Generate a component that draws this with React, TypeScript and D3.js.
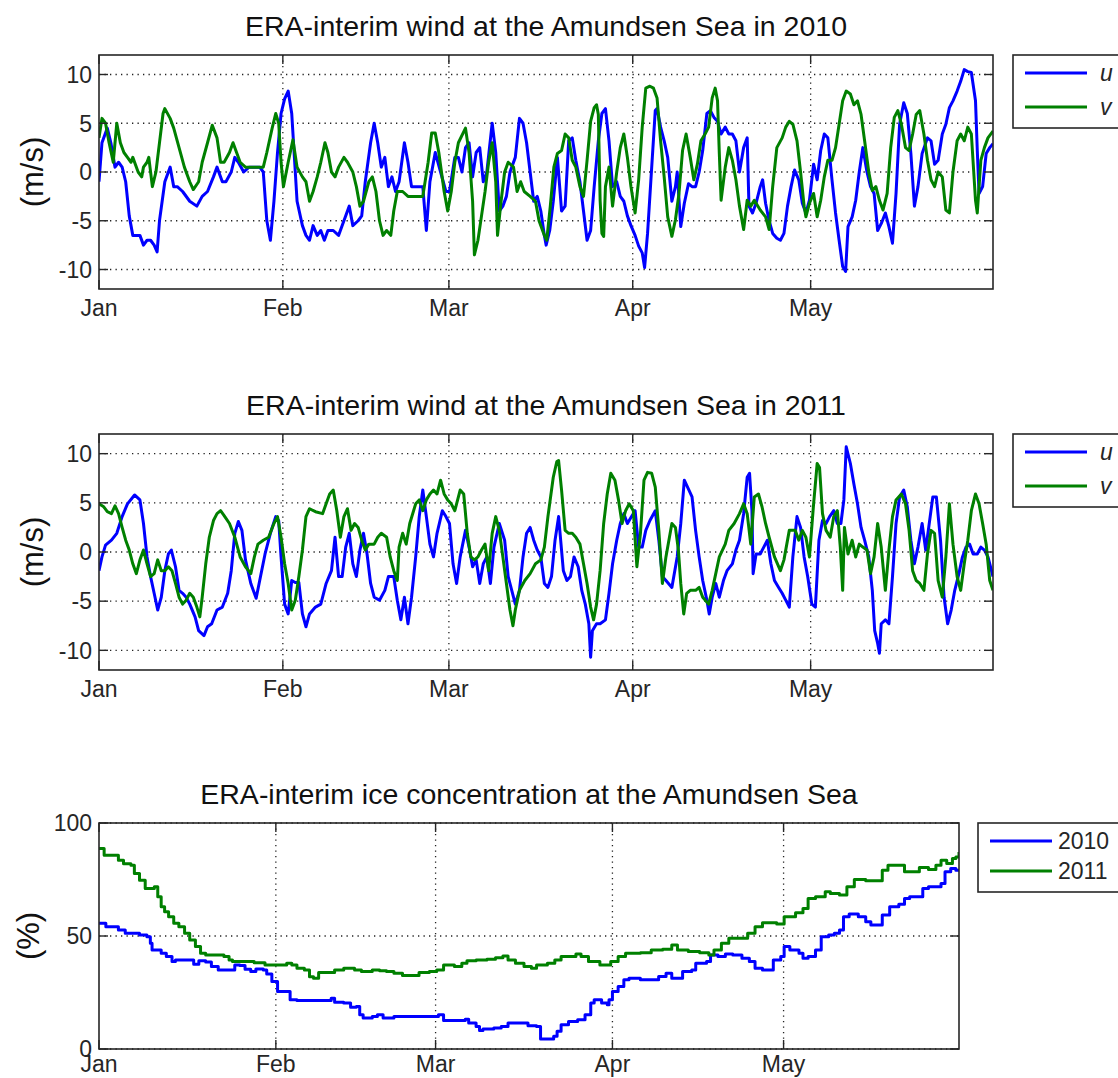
import React from 'react';
import * as d3 from 'd3';

// [day since Jan 1, value]
type Pt = [number, number];

const monthDays = [0, 31, 59, 90, 120];
const monthLabels = ['Jan', 'Feb', 'Mar', 'Apr', 'May'];
const dayEnd = 150.75;
const windTicks = [-10, -5, 0, 5, 10];
const iceTicks = [0, 50, 100];
const windLegend = ['u', 'v'];
const iceLegend = ['2010', '2011'];

const u2010: Pt[] = [[0,-1],[0.5,3],[1.4,4.5],[2,3],[2.7,0.5],[3.3,1],[3.9,0.5],[4.5,-1],[5.1,-4.5],[5.7,-6.5],[6.3,-6.5],[6.9,-6.5],[7.5,-7.5],[8.1,-7],[8.7,-7],[9.3,-7.5],[9.8,-8.2],[10.2,-5],[11.1,-1],[12,0.5],[12.6,-1.5],[13.2,-1.5],[14.1,-2],[15.3,-3],[16.5,-3.5],[17.4,-2.5],[18.3,-2],[19.3,-0.5],[19.9,0.5],[20.8,-1],[21.4,-1],[22.3,0],[22.9,1.5],[23.5,1],[24.4,0],[25.3,0.5],[26.2,0.5],[27.1,0.5],[27.7,0],[28.3,-5],[28.9,-7],[29.5,-3],[30.1,2],[30.7,6],[31.3,7.5],[31.9,8.3],[32.5,6],[32.8,3],[33.4,-3],[34.3,-5.5],[34.9,-6.5],[35.5,-7],[36.1,-5.5],[36.8,-6.5],[37.4,-6],[38,-7],[38.6,-6],[39.5,-6],[40.4,-6.5],[41.3,-5],[42.2,-3.5],[42.8,-5.5],[43.7,-5],[44.3,-4.5],[44.9,-1],[45.8,3],[46.4,5],[47,3],[47.6,0.5],[48.2,1.5],[48.8,-1.5],[49.4,-0.5],[50,-2],[50.6,-1],[51.5,3],[52.1,1],[52.7,-1.5],[54.6,-1.5],[55.2,-6],[55.8,-1],[56.7,2],[57.6,0],[58.5,-2],[59.1,-2],[60,1.5],[60.6,1.5],[61.2,0],[61.8,2.5],[62.4,3],[63,-0.5],[63.6,2],[64.2,2.5],[64.8,-1],[65.4,0],[66.3,5],[66.9,2],[67.5,-4],[68.1,-3.5],[68.7,-2.5],[69.3,0],[70.2,1.5],[70.9,5.5],[71.5,5],[72.1,3],[72.7,0],[73.3,-3],[73.9,-2.5],[74.5,-4],[75.1,-6.5],[75.4,-7.5],[76,-6],[76.6,-3],[77.3,1.5],[78,-4],[78.6,-3.5],[79.2,3.2],[79.8,3.5],[80.4,1.2],[81.1,-1],[81.7,-4],[82.3,-7],[82.9,-6],[83.5,-1.5],[84.2,3.2],[84.8,6],[85.4,6.5],[86,3.2],[86.6,-1.5],[87.3,-1],[87.9,-2.5],[88.5,-3],[89.1,-4.5],[89.7,-5.5],[90.4,-6.5],[91,-7.6],[91.6,-8.3],[92,-9.8],[92.5,-6.3],[93.2,0.5],[93.8,6.3],[94.1,6.5],[94.7,4.6],[95.3,3.2],[95.9,1.5],[96.6,-3],[97.2,-1.5],[97.5,0],[98.1,-5.6],[98.7,-3.2],[99.4,-1.2],[100,-1.5],[100.6,-1.5],[101.2,0],[101.8,2.2],[102.5,6],[103.1,6.3],[103.7,5.6],[104.3,5.2],[104.9,3.9],[105.6,4.6],[106.2,3.9],[106.8,3.9],[107.4,3.2],[108,0],[108.7,2.5],[109.3,3.5],[109.6,-3.5],[110.2,-4.2],[110.8,-3.2],[111.5,-1.5],[111.9,-0.8],[112.4,-3.2],[113,-5],[113.6,-6.3],[114.3,-6.8],[114.9,-7],[115.5,-6.3],[116.1,-3.5],[116.7,-1.5],[117.3,0.2],[118,-0.8],[118.6,-3.2],[119.2,-4.2],[119.8,-2.9],[120.5,0.8],[121.1,-0.8],[121.7,2.2],[122.3,3.9],[122.9,3.5],[123.6,-0.8],[124.2,-4.2],[124.8,-7],[125.4,-9.7],[125.9,-10.2],[126.3,-5.6],[127,-4.6],[127.6,-2.9],[128.2,0],[128.8,2.5],[129.5,0],[130.1,-1.5],[130.7,-2.2],[131.3,-6],[131.9,-5.3],[132.6,-4.2],[133.2,-5.6],[133.8,-7.3],[134.4,-2.2],[135,4.9],[135.7,7.1],[136.3,6],[136.9,1.9],[137.5,-3.5],[138.1,-1.5],[138.8,1.9],[139.7,3.5],[140.3,3.2],[140.9,0.8],[141.5,1.2],[142.2,3.9],[142.8,4.9],[143.4,6.6],[144,7.3],[144.7,8.3],[145.3,9.3],[145.9,10.5],[146.5,10.3],[147.1,10.2],[147.8,7.3],[148.1,2.2],[148.4,-2.2],[149,-1.5],[149.6,1.9],[150.2,2.5],[150.75,2.9]];

const v2010: Pt[] = [[0,3.5],[0.5,5.5],[1.1,5],[1.7,3],[2.4,1],[3,5],[3.6,3],[4.2,2],[4.8,1.5],[5.4,1],[5.7,1.5],[6.6,0],[7.2,-0.5],[7.5,0.5],[8.1,1],[8.4,1.5],[9,-1.5],[9.6,0],[10.2,3],[10.8,6],[11.1,6.5],[12,5.5],[12.6,4.5],[13.5,2.5],[14.4,0.5],[15.3,-1],[15.9,-1.8],[16.8,-1],[17.4,1],[18.3,3],[19.1,4.8],[19.9,3.5],[20.5,1],[21.1,1],[22,2],[22.6,3],[23.2,2],[23.8,1],[24.7,0.5],[25.6,0.5],[26.8,0.5],[27.7,0.5],[28.3,2],[29.2,4.5],[29.8,6],[30.3,5],[30.7,1],[31.1,-1.5],[31.9,1],[32.7,3.3],[33.4,0.5],[34.3,-0.5],[34.9,-1],[35.5,-3],[36.1,-2],[36.8,-0.5],[37.4,1],[38.1,3],[38.6,2],[39.2,0],[39.8,-0.5],[40.4,0.5],[41.3,1.5],[41.9,1],[42.8,0],[43.4,-1.5],[44,-3.5],[44.6,-3],[45.5,-1],[46.1,-0.5],[46.7,-2],[47.3,-5],[47.9,-6.5],[48.5,-6],[49.2,-6.5],[49.7,-4],[50.3,-2],[51.2,-2],[52.1,-2.5],[53.4,-2.5],[54.6,-2.5],[55.5,1],[56.1,4],[56.7,4],[57.3,2],[58.2,-2],[58.8,-4],[59.4,-2],[60,1],[60.6,3],[61.8,4.5],[62.4,2],[63,-3],[63.3,-8.5],[63.9,-7],[64.5,-4.5],[65.1,-2],[65.7,1],[66.3,3],[66.9,-1],[67.2,-6.5],[67.8,-3],[68.4,0],[69,1],[69.9,0.5],[70.5,-2],[71.1,-1],[71.7,-2],[72.7,-2.5],[73.6,-3],[74.2,-5],[75.1,-6.5],[75.5,-7],[76.1,-3.5],[76.7,0.5],[77.3,1.9],[78,2.2],[78.6,3.9],[79.2,3.5],[79.8,1.2],[80.4,0.5],[81.1,-1.5],[81.7,-2.5],[82.3,1.2],[82.9,5.2],[83.5,6.6],[83.9,6.9],[84.2,5.9],[84.5,-2.9],[84.8,-6.3],[85.1,-6.6],[85.4,-1.5],[86,0.5],[86.6,-3.5],[87.3,0],[87.9,2.5],[88.5,3.9],[89.1,1.5],[89.7,-1.5],[90.4,-4.2],[91,-0.8],[91.6,4.6],[92.2,8.6],[92.9,8.8],[93.5,8.6],[94.1,7.6],[94.7,3.2],[95.3,-0.5],[95.9,-4.6],[96.6,-6.6],[97.2,-4.9],[97.8,-2.2],[98.4,2.2],[99,3.9],[99.7,1.5],[100.3,-0.8],[100.9,0.8],[101.5,3.2],[102.2,3.9],[102.8,4.6],[103.4,7.6],[103.9,8.6],[104.3,7.3],[104.6,1.9],[104.9,-2.9],[105.6,0.5],[106.2,2.5],[106.8,1.2],[107.4,-0.8],[108,-3.5],[108.7,-5.9],[109.3,-2.9],[109.9,-3.5],[110.5,-2.9],[111.5,-3.9],[112.4,-4.6],[113,-5.9],[113.6,-1.5],[114.3,2.5],[115.2,3.5],[115.8,4.6],[116.4,5.2],[117,4.9],[117.7,3.2],[118.3,0],[118.9,-3.5],[119.2,-4.6],[119.8,-3.2],[120.5,-2.2],[121.1,-4.6],[121.7,-2.9],[122.3,-0.5],[122.9,1.2],[123.6,1.2],[124.2,2.5],[124.8,4.9],[125.4,7.3],[126,8.3],[126.7,8],[127.3,6.9],[127.9,7.3],[128.5,5.9],[129.1,3.2],[129.8,0],[130.4,-1.9],[131,-1.5],[131.6,-2.9],[132.2,-3.9],[132.9,-2.2],[133.5,2.5],[134.1,5.6],[134.7,6.3],[135.3,4.9],[136,2.5],[136.6,2.2],[137.2,3.9],[137.8,5.9],[138.4,6.3],[139.1,3.9],[139.7,1.2],[140.3,-0.8],[140.9,-1.5],[141.5,0],[142.2,-0.5],[142.8,-3.9],[143.4,-4.2],[144,0],[144.7,3.2],[145.3,3.9],[145.9,3.2],[146.5,4.6],[147.1,3.9],[147.8,-2.9],[148.1,-4.2],[148.7,1.2],[149.3,2.5],[149.9,3.5],[150.75,4.2]];

const u2011: Pt[] = [[0,-1.9],[0.5,-0.5],[1.1,0.7],[2.1,1.2],[3,1.9],[3.9,3.6],[4.8,4.9],[6,5.8],[6.9,5.3],[7.5,2.9],[8.1,-0.5],[8.7,-2.5],[9.3,-4.2],[9.9,-5.9],[10.5,-4.6],[11.1,-1.9],[11.7,-0.2],[12.2,0.2],[12.9,-1.5],[13.5,-3.9],[14.1,-4.2],[14.7,-4.6],[15.3,-5.3],[16.2,-6.6],[16.8,-8],[17.7,-8.5],[18.3,-7.6],[19,-7.3],[19.9,-5.9],[20.8,-5.6],[21.7,-4.2],[22.3,-1.9],[22.9,1.9],[23.5,3.1],[24.1,2.2],[24.7,-0.8],[25.6,-3.2],[26.5,-4.7],[27.1,-2.9],[28,-0.2],[28.9,1.9],[29.8,3.6],[30.3,3.2],[30.7,-0.5],[31.3,-5.3],[31.9,-6.3],[32.5,-2.9],[33.1,-3.1],[33.7,-3.1],[34.3,-6.3],[34.9,-7.6],[35.5,-6.3],[36.5,-5.6],[37.4,-5.3],[38.3,-3.2],[39.2,-1.9],[39.8,1.5],[40.4,-2.5],[41,-2.5],[41.6,0.5],[42.2,1.9],[42.8,-1.2],[43.4,-2.5],[44,0.2],[44.6,1.9],[45.2,-0.2],[45.8,-3.2],[46.4,-4.6],[47.3,-4.9],[48.2,-3.9],[48.8,-2.5],[49.7,-2.5],[50.3,-4.9],[50.9,-6.9],[51.5,-4.6],[52.1,-7.3],[52.7,-4.6],[53.4,-0.5],[54,3.6],[54.6,6.3],[55.2,3.6],[55.8,0.8],[56.4,-0.5],[57,1.9],[57.9,4.2],[58.5,3.6],[59.1,2.9],[59.7,-1.2],[60.3,-3.2],[60.9,-0.5],[61.8,2.2],[62.4,0.5],[63,-1.5],[63.6,-0.8],[64.2,-3.2],[64.8,-1.2],[65.4,-0.5],[66,-3.2],[66.6,0.5],[67.5,2.9],[68.4,1.2],[69,-2.5],[69.6,-3.9],[70.2,-5.3],[70.9,-3.9],[71.5,-0.5],[72.1,1.9],[72.7,2.5],[73.3,1.2],[73.9,0.2],[74.5,-0.5],[75.1,-3.2],[75.7,-3.6],[76.3,-2.5],[76.9,1.2],[77.5,3.6],[78.3,-1.9],[78.9,-2.9],[79.5,-2.5],[80.1,-0.5],[80.8,-1.5],[81.4,-3.9],[82,-5.3],[82.6,-7.3],[82.9,-10.7],[83.2,-8],[83.9,-7.3],[84.5,-7.3],[85.4,-6.9],[86,-4.2],[86.6,-1.2],[87.3,1.2],[87.9,2.9],[88.5,3.9],[89.1,2.9],[89.8,3.6],[90.4,4.2],[91,0.5],[91.6,0.5],[92.2,2.2],[92.9,3.2],[93.8,4.2],[94.4,1.2],[95,-2.5],[95.6,-2.9],[96.6,-3.6],[97.5,-0.5],[98.1,2.9],[98.7,7.3],[99.4,6.4],[100,5.6],[100.6,2.2],[101.2,-0.5],[101.8,-2.9],[102.5,-4.9],[102.9,-6.3],[103.4,-4.6],[104,-3.2],[104.6,-4.6],[105.3,-2.9],[105.9,-1.9],[106.8,-1.2],[107.4,0.2],[108,1.2],[108.7,3.9],[109.3,7.6],[109.7,8],[110.1,4.2],[110.3,-2.2],[110.8,-0.2],[111.5,-0.2],[112.1,0.5],[112.7,1.2],[113.3,-1.2],[113.9,-2.9],[114.6,-3.6],[115.2,-4.2],[115.8,-4.9],[116.4,-5.6],[117,-0.5],[117.7,3.6],[118.3,2.5],[118.9,-0.5],[119.5,-2.5],[120.2,-5.3],[120.8,-5.6],[121.4,1.2],[122,3.2],[122.6,2.9],[123.2,3.6],[123.9,4.2],[124.5,2.9],[125.1,2.9],[125.6,5.3],[126,10.7],[126.7,9],[127.3,6.9],[127.9,4.9],[128.5,2.5],[129.1,1.2],[129.8,-0.5],[130.4,-3.9],[130.8,-8],[131.3,-9.3],[131.6,-10.3],[131.9,-7.3],[132.6,-6.9],[133.2,-7.3],[133.8,-2.5],[134.4,2.9],[135,5.6],[135.7,6.3],[136.3,4.6],[136.9,1.2],[137.5,-1.2],[138.1,0.5],[138.8,2.9],[139.4,0.2],[140,2.9],[140.6,5.6],[141.2,5.6],[141.9,1.2],[142.5,-4.6],[143.1,-7.3],[143.7,-5.9],[144.3,-3.9],[145,-2.2],[145.6,-0.5],[146.2,0.5],[146.8,0.8],[147.4,-0.2],[148.1,-0.2],[148.7,0.5],[149.3,0.2],[149.9,-0.5],[150.75,-2.5]];

const v2011: Pt[] = [[0,4.9],[0.8,4.6],[1.4,4.1],[2.1,3.9],[2.7,4.7],[3.3,3.9],[3.9,2.5],[4.5,1.2],[5.1,0.2],[5.7,-1.2],[6.3,-2.2],[6.9,-0.8],[7.5,0.2],[8.1,-1.2],[8.7,-2.5],[9.3,-2.2],[9.9,-0.8],[10.5,-1.9],[11.1,-1.9],[11.7,-1.5],[12.3,-1.9],[12.9,-3.2],[13.5,-4.6],[14.1,-5.3],[14.7,-4.9],[15.3,-4.2],[15.9,-4.6],[16.5,-5.6],[17,-6.6],[17.4,-4.6],[18,-1.2],[18.6,1.5],[19.3,3.2],[19.9,3.9],[20.5,4.2],[21.1,3.7],[22,2.9],[22.9,1.5],[23.8,-0.5],[24.7,-1.5],[25.6,-2.2],[26.2,-0.5],[26.8,0.8],[27.7,1.2],[28.6,1.5],[29.5,2.9],[30.1,3.6],[30.7,1.5],[31.3,-1.2],[31.9,-3.2],[32.5,-5.9],[33.1,-4.9],[33.7,-2.5],[34.3,0.2],[34.9,3.6],[35.5,4.4],[36.5,4.1],[37.7,3.9],[38.3,4.9],[38.9,5.9],[39.5,6.3],[40.1,4.2],[40.7,1.5],[41.3,3.6],[41.9,4.4],[42.5,2.2],[43.1,2.9],[43.7,2.5],[44.3,1.2],[44.9,0.2],[45.5,0.8],[46.4,0.8],[47,1.5],[47.6,1.9],[48.5,1.5],[49.1,-0.5],[49.7,-1.9],[50.3,-2.9],[50.6,0.5],[51.2,1.9],[51.8,0.8],[52.4,2.9],[53.4,4.9],[54,5.3],[54.6,4.2],[55.2,5.3],[55.8,5.9],[56.4,6.3],[57,5.9],[57.6,7.3],[58.2,5.9],[58.8,5.3],[59.4,4.9],[60,4.2],[60.9,6.3],[61.5,5.9],[62.1,1.9],[62.7,-0.5],[63.3,-0.8],[63.9,-0.5],[64.5,0.2],[65.1,0.8],[65.7,-1.9],[66.3,1.9],[66.9,3.6],[67.5,2.2],[68.1,-0.5],[68.7,-3.2],[69.3,-5.9],[69.8,-7.5],[70.2,-5.9],[70.9,-3.9],[71.8,-2.9],[72.7,-2.2],[73.6,-1.2],[74.5,-0.8],[75.1,0.5],[75.7,3.6],[76.6,7.6],[77.2,9.2],[77.5,9.3],[78,6.3],[78.6,2.2],[79.2,1.9],[79.8,1.9],[80.4,1.5],[81.1,0.8],[81.7,-1.2],[82.3,-3.2],[82.9,-5.6],[83.4,-6.9],[83.9,-5.3],[84.5,-1.9],[85.1,2.9],[85.7,5.9],[86.3,8],[87,7.3],[87.6,5.3],[88.2,2.9],[88.8,4.2],[89.4,4.9],[90.1,4.2],[90.7,-1.5],[91.3,1.9],[91.9,7.3],[92.5,8.1],[93.2,8],[93.8,6.6],[94.4,2.2],[95,-3.2],[95.6,-0.5],[96.6,2.9],[97.2,2.5],[97.7,0.2],[98.1,-3.2],[98.6,-6.3],[99.1,-4.2],[99.7,-3.9],[100.6,-3.9],[101.2,-3.6],[101.8,-4.6],[102.8,-5.3],[103.4,-3.9],[104,-2.2],[104.6,-0.5],[105.6,0.8],[106.2,2.2],[107.1,2.9],[108,3.9],[108.7,4.9],[109.3,3.9],[109.9,0.8],[110.5,5.6],[111.2,5.9],[111.8,4.6],[112.4,2.9],[113,1.5],[113.9,-0.5],[114.9,-1.9],[115.5,-0.8],[116.4,2.2],[117.4,2.2],[118,1.2],[118.6,2.2],[119.2,1.5],[119.8,-0.5],[120.5,4.9],[121.1,9],[121.5,8.6],[122,3.9],[122.6,2.2],[123.3,1.5],[123.9,3.6],[124.5,4.2],[125,0.5],[125.4,-3.9],[125.7,2.5],[126.3,-0.2],[127,1.2],[127.6,-0.5],[128.2,0.8],[128.8,0.5],[129.5,0.2],[130.1,-2.2],[130.7,-0.5],[131.3,2.9],[131.9,0.5],[132.6,-3.9],[133.2,0.2],[133.8,3.6],[134.4,5.3],[135.3,5.9],[136,4.9],[136.6,2.2],[137.2,-1.9],[137.8,-2.9],[138.4,-3.2],[139.1,-3.9],[139.7,-0.2],[140.3,2.2],[140.9,1.9],[141.5,-2.9],[142.2,-4.6],[142.8,-0.5],[143.4,4.9],[144,0.8],[144.7,-2.5],[145.3,-3.9],[145.9,-1.2],[146.5,1.2],[147.1,4.2],[147.8,5.9],[148.4,4.9],[149,2.9],[149.6,0.8],[150.2,-2.9],[150.75,-3.9]];

const ice2010: Pt[] = [[0,55.6],[1.2,54.1],[3.4,52.6],[4.6,51.2],[7.1,50.4],[8.4,49.7],[9,46.8],[9.3,43.8],[10.9,42.4],[11.8,40.9],[12.8,38.7],[13.4,39.4],[16.6,37.5],[17.5,39.1],[18.7,38.5],[19.7,36.5],[20.9,35],[23.8,37.2],[24.7,37],[25.6,35.3],[26.6,34.3],[27.5,35.4],[28.8,35],[29.4,33.2],[30.3,29.9],[31.3,25.4],[33.5,21.8],[34.7,21.5],[40.7,22.5],[41.3,20.7],[42.9,20.3],[44.1,18.5],[45.1,18.8],[45.7,15.1],[46.3,13.7],[47.9,14.4],[48.8,15.1],[49.8,13.7],[51.7,14.4],[59.5,15.1],[60.4,12.6],[64.2,13.2],[64.8,11.5],[66.1,10],[66.7,8.2],[67.3,8.8],[69.2,9.3],[70.5,10],[71.7,11.5],[75.2,10.3],[76.7,10],[77.4,4.4],[79.7,5.6],[80.3,7.8],[81,10.7],[82.3,12.2],[83.9,12.9],[85.2,15.1],[86.2,20.3],[86.8,21.8],[88.1,20.3],[89.1,19.6],[89.4,21.8],[90,25.4],[91,27.6],[92,30.6],[92.9,31.3],[94.9,30.6],[98.1,32.1],[99.4,33.5],[100.4,31.3],[102.3,34.3],[103.9,35],[104.6,37.9],[106.5,38.7],[107.2,41.6],[108.5,40.9],[109.8,42],[111.1,41.6],[112.7,40.1],[114,38.7],[115,35.7],[116.3,35],[118.2,39.4],[119.5,40.9],[120.1,45.3],[121.1,43.8],[122.7,42.4],[123.4,40.1],[124.3,40.9],[125.6,43.8],[126.6,49.7],[127.9,50.4],[128.9,51.2],[129.8,52.6],[130.5,58.5],[131.5,59.7],[133.1,58.5],[134.4,56.3],[135.3,54.9],[137.3,59.3],[138.6,62.9],[140.2,64.1],[141.2,66.6],[142.1,67.4],[144.4,71],[145.4,71.8],[147.6,73.2],[148.3,78.4],[149.3,79.9],[150.2,79.1],[150.75,78.4]];

const ice2011: Pt[] = [[0,88.7],[0.9,85.7],[3.4,83.5],[4.3,82],[5.6,81.3],[6.2,77.6],[7.1,74.7],[8.1,71],[9.7,71.8],[10.3,67.4],[10.9,62.9],[11.5,60.7],[12.2,58.5],[13.1,55.6],[14,54.1],[15,51.2],[15.9,48.2],[16.9,45.3],[17.8,42.4],[18.7,41.6],[21.9,40.9],[22.8,39.4],[23.4,38.7],[27.2,38.2],[29.1,37.2],[32.9,37.9],[33.8,37.2],[34.7,35.7],[36,35],[36.9,32],[37.6,31.3],[38.5,33.8],[41.3,35],[42.9,35.7],[44.8,35],[46,34.3],[47.9,35],[49.2,34.6],[50.4,34.3],[51.7,33.5],[53.2,32.5],[56.1,33.8],[57.9,34.3],[59.2,35],[60.4,37.2],[62.3,36.5],[63.6,37.9],[64.5,39],[66.1,39.4],[68,39.7],[69.5,40.4],[70.8,41.2],[71.7,39.4],[73,37.9],[74.5,36.5],[75.8,35.7],[76.7,37.2],[78.6,37.9],[79.9,39.4],[81,40.9],[83.6,42],[84.5,40.9],[85.8,38.7],[87.8,37.2],[89.7,38.7],[91,40.9],[92.3,42.4],[94.9,42.6],[96.8,43.8],[98.8,44.1],[100.4,46],[101.4,43.8],[103.3,43.1],[105.3,42.6],[106.9,41.6],[107.8,43.8],[109.1,46.8],[110.4,49],[113.7,51.2],[115,54.1],[116.3,55.9],[118.8,55.3],[120.1,58.5],[122.1,60.3],[123.4,62.2],[124.3,66.6],[125.6,67.4],[127.3,69.6],[128.2,68.8],[129.8,68.1],[131.1,71.8],[132.4,75],[134.4,74.4],[137.3,79.1],[138.3,81.3],[141.2,78.4],[143.8,80.3],[145.4,79.4],[146.7,81.3],[147.6,83.5],[148.6,82.1],[149.6,84.3],[150.2,85],[150.75,87.2]];

const FONT = '"Liberation Sans", Arial, Helvetica, sans-serif';
const BLUE = '#0000ff';
const GREEN = '#008000';
const AXIS = '#262626';

type PanelProps = {
  id: string;
  title: string;
  top: number;
  bottom: number;
  right: number;
  yDomain: [number, number];
  yTicks: number[];
  yLabel: string;
  yLabelX: number;
  series: Pt[][];
  step?: boolean;
  legend: string[];
  legendLeft: number;
  legendH: number;
  legendGap: number;
  italic?: boolean;
  xLabelGap: number;
};

const left = 99;
const colors = [BLUE, GREEN];

function Panel(p: PanelProps) {
  const x = d3.scaleLinear().domain([0, dayEnd]).range([left, p.right]);
  const y = d3.scaleLinear().domain(p.yDomain).range([p.bottom, p.top]);
  const line = d3.line<Pt>()
    .x(d => x(d[0]))
    .y(d => y(d[1]))
    .curve(p.step ? d3.curveStepAfter : d3.curveLinear);
  const tickLen = 9;
  const midY = (p.top + p.bottom) / 2;
  const lgTop = p.top;

  return (
    <g>
      <clipPath id={p.id}>
        <rect x={left} y={p.top} width={p.right - left} height={p.bottom - p.top} />
      </clipPath>
      {/* dotted grid */}
      <g stroke="#222" strokeWidth={1.3} strokeDasharray="1.3,4.2">
        {p.yTicks.map(t => (
          <line key={'gy' + t} x1={left} x2={p.right} y1={y(t)} y2={y(t)} />
        ))}
        {monthDays.slice(1).map(m => (
          <line key={'gx' + m} x1={x(m)} x2={x(m)} y1={p.top} y2={p.bottom} />
        ))}
      </g>
      <g clipPath={`url(#${p.id})`} fill="none" strokeWidth={3} strokeLinejoin="round">
        {p.series.map((s, i) => (
          <path key={i} d={line(s) || ''} stroke={colors[i]} />
        ))}
      </g>
      {/* tick marks */}
      <g stroke={AXIS} strokeWidth={1.4}>
        {p.yTicks.map(t => (
          <g key={'ty' + t}>
            <line x1={left} x2={left + tickLen} y1={y(t)} y2={y(t)} />
            <line x1={p.right} x2={p.right - tickLen} y1={y(t)} y2={y(t)} />
          </g>
        ))}
        {monthDays.map(m => (
          <g key={'tx' + m}>
            <line x1={x(m)} x2={x(m)} y1={p.bottom} y2={p.bottom - tickLen} />
            <line x1={x(m)} x2={x(m)} y1={p.top} y2={p.top + tickLen} />
          </g>
        ))}
      </g>
      <rect x={left} y={p.top} width={p.right - left} height={p.bottom - p.top}
        fill="none" stroke={AXIS} strokeWidth={1.6} />
      <g fontSize={23} fill={AXIS}>
        {p.yTicks.map(t => (
          <text key={'ly' + t} x={left - 7} y={y(t)} dy="0.36em" textAnchor="end">{t}</text>
        ))}
        {monthDays.map((m, i) => (
          <text key={'lx' + m} x={x(m)} y={p.bottom + p.xLabelGap} textAnchor="middle">{monthLabels[i]}</text>
        ))}
      </g>
      <text transform={`translate(${p.yLabelX},${midY}) rotate(-90)`} textAnchor="middle"
        dy="0.36em" fontSize={31} fill="#111">{p.yLabel}</text>
      <text x={(left + p.right) / 2} y={p.top - 19} textAnchor="middle" fontSize={28.5} fill="#111">
        {p.title}
      </text>
      {/* legend */}
      <rect x={p.legendLeft} y={lgTop} width={200} height={p.legendH} fill="#fff"
        stroke={AXIS} strokeWidth={1.6} />
      {p.legend.map((lab, i) => {
        const ly = lgTop + 18 + i * p.legendGap;
        return (
          <g key={lab}>
            <line x1={p.legendLeft + 12} x2={p.legendLeft + 74} y1={ly} y2={ly}
              stroke={colors[i]} strokeWidth={3} />
            <text x={p.legendLeft + (p.italic ? 87 : 80)} y={ly} dy="0.36em" fontSize={23}
              fontStyle={p.italic ? 'italic' : 'normal'} fill={AXIS}>{lab}</text>
          </g>
        );
      })}
    </g>
  );
}

export default function App() {
  return (
    <svg width={1118} height={1078} fontFamily={FONT}
      style={{ position: 'absolute', left: 0, top: 0, background: '#fff', display: 'block' }}>
      <Panel id="c1" title="ERA-interim wind at the Amundsen Sea in 2010"
        top={55} bottom={289} right={993} yDomain={[-12, 12]} yTicks={windTicks}
        yLabel="(m/s)" yLabelX={32} series={[u2010, v2010]} xLabelGap={27}
        legend={windLegend} legendLeft={1013} legendH={73} legendGap={34} italic />
      <Panel id="c2" title="ERA-interim wind at the Amundsen Sea in 2011"
        top={434} bottom={670} right={993} yDomain={[-12, 12]} yTicks={windTicks}
        yLabel="(m/s)" yLabelX={32} series={[u2011, v2011]} xLabelGap={27}
        legend={windLegend} legendLeft={1013} legendH={73} legendGap={34} italic />
      <Panel id="c3" title="ERA-interim ice concentration at the Amundsen Sea"
        top={823} bottom={1049} right={959} yDomain={[0, 100]} yTicks={iceTicks}
        yLabel="(%)" yLabelX={28} series={[ice2010, ice2011]} step xLabelGap={23}
        legend={iceLegend} legendLeft={978} legendH={69} legendGap={30} />
    </svg>
  );
}
